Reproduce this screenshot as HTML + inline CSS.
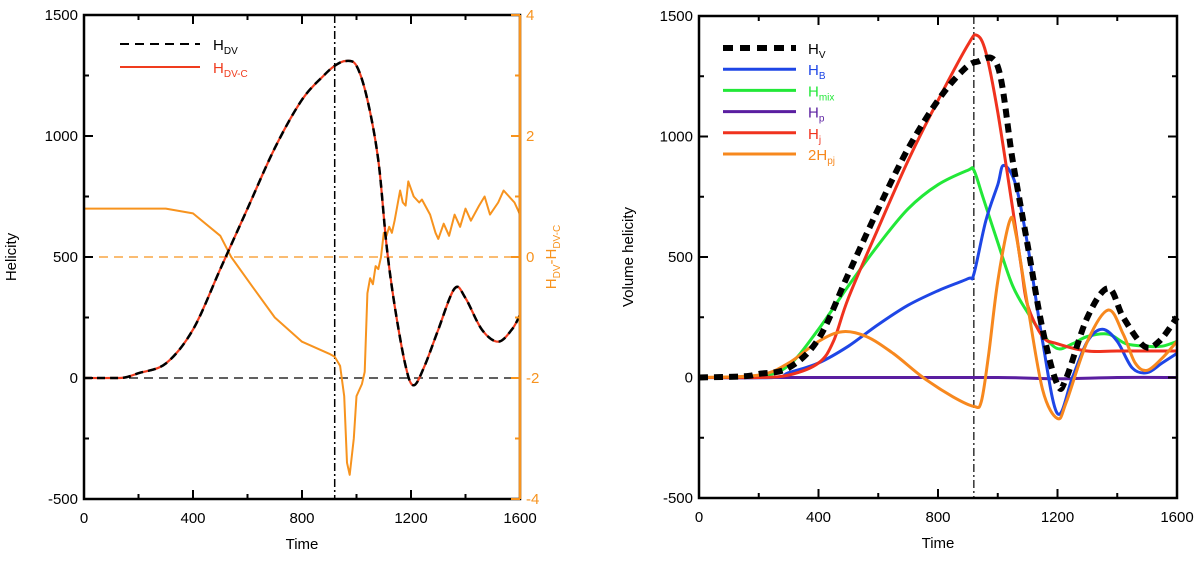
<!DOCTYPE html>
<html><head><meta charset="utf-8"><style>
body{margin:0;background:#fff;width:1200px;height:561px;overflow:hidden}
svg{font-family:"Liberation Sans",sans-serif}
</style></head><body>
<svg id="svg" width="1200" height="561"></svg>
<script>
const tL=[0,100,150,200,300,400,500,600,700,800,880,920,960,1000,1040,1080,1110,1140,1180,1210,1250,1300,1360,1400,1460,1520,1570,1600];
const hdv=[0,0,2,20,60,200,450,700,950,1150,1250,1290,1310,1290,1150,900,550,300,50,-30,50,200,370,330,200,150,200,260];
const tD=[0,300,400,500,540,620,700,800,900,920,940,955,965,975,990,1000,1020,1030,1040,1050,1060,1070,1080,1090,1100,1110,1120,1130,1140,1160,1170,1180,1190,1210,1230,1240,1270,1290,1300,1320,1340,1360,1380,1400,1420,1450,1470,1490,1520,1540,1580,1600];
const diff=[0.8,0.8,0.72,0.35,0,-0.5,-1.0,-1.4,-1.6,-1.65,-1.8,-2.3,-3.4,-3.6,-3.0,-2.3,-2.1,-1.9,-0.6,-0.35,-0.45,-0.15,-0.2,0.0,0.4,0.35,0.5,0.4,0.6,1.1,0.9,0.85,1.25,1.0,0.9,0.95,0.7,0.4,0.3,0.55,0.35,0.7,0.5,0.8,0.6,0.85,1.0,0.7,0.9,1.1,0.9,0.7];
const tHv=[0,150,200,300,400,500,600,700,800,880,930,1000,1050,1100,1150,1200,1230,1300,1370,1420,1490,1540,1600];
const hv=[0,5,15,40,160,430,700,950,1150,1270,1310,1290,900,550,200,-30,0,250,370,250,130,150,250];
const tB=[0,250,300,400,500,600,700,800,900,920,960,1000,1020,1060,1100,1150,1200,1250,1300,1350,1400,1450,1500,1550,1600];
const hb=[0,0,20,60,130,220,300,360,410,430,650,800,880,800,550,150,-150,0,150,200,150,40,20,60,100];
const tM=[0,200,300,400,500,600,700,800,900,920,950,1000,1050,1100,1150,1200,1250,1300,1370,1430,1500,1550,1600];
const hmix=[0,5,50,200,380,550,700,800,860,860,750,560,380,270,180,120,140,170,180,140,130,130,150];
const tP=[0,600,1000,1200,1400,1600];
const hp=[0,0,0,-5,0,0];
const tJ=[0,200,300,400,450,500,600,700,800,900,930,960,1000,1050,1080,1100,1150,1200,1300,1400,1600];
const hj=[0,0,10,60,150,330,620,900,1150,1380,1420,1350,1100,700,450,300,170,140,110,110,110];
const tPJ=[0,200,300,400,480,560,650,750,850,920,945,970,1000,1040,1060,1100,1150,1200,1230,1300,1370,1420,1460,1500,1550,1600];
const hpj=[0,10,60,150,190,170,100,0,-80,-120,-100,100,400,650,600,300,-50,-170,-100,150,280,180,60,30,80,150];
const xTicks=[0,400,800,1200,1600];
const yTicks=[-500,0,500,1000,1500];
const y2Ticks=[-4,-2,0,2,4];

const NS='http://www.w3.org/2000/svg',svg=document.getElementById('svg');
function el(tag,a,txt){const e=document.createElementNS(NS,tag);for(const k in a)e.setAttribute(k,a[k]);if(txt!=null)e.textContent=txt;svg.appendChild(e);return e;}
function panel(L,R,T,B){return{x:t=>L+(R-L)*t/1600,y:v=>B-(B-T)*(v+500)/2000,y2:v=>B-(B-T)*(v+4)/8,L,R,T,B};}
function line(p,ts,vs,yf,style,name,smooth){
  const P=ts.map((t,i)=>[p.x(t),yf(vs[i])]);
  let d='M'+P[0][0].toFixed(1)+','+P[0][1].toFixed(1);
  for(let i=0;i<P.length-1;i++){
    if(!smooth){d+='L'+P[i+1][0].toFixed(1)+','+P[i+1][1].toFixed(1);continue;}
    const p0=P[Math.max(0,i-1)],p1=P[i],p2=P[i+1],p3=P[Math.min(P.length-1,i+2)];
    const c1=[p1[0]+(p2[0]-p0[0])/6,p1[1]+(p2[1]-p0[1])/6],c2=[p2[0]-(p3[0]-p1[0])/6,p2[1]-(p3[1]-p1[1])/6];
    d+='C'+c1.map(v=>v.toFixed(1))+' '+c2.map(v=>v.toFixed(1))+' '+p2.map(v=>v.toFixed(1));
  }
  const e=el('path',Object.assign({d,fill:'none','stroke-linejoin':'round'},style));
  
  
}
function axes(p,pre,right2){
  const f=el('rect',{x:p.L,y:p.T,width:p.R-p.L,height:p.B-p.T,fill:'none',stroke:'#000','stroke-width':2.5});
  
  for(let t=0;t<=1600;t+=200){const x=p.x(t),l=t%400?5:9;
    el('line',{x1:x,x2:x,y1:p.B,y2:p.B-l,stroke:'#000','stroke-width':2});
    el('line',{x1:x,x2:x,y1:p.T,y2:p.T+l,stroke:'#000','stroke-width':2});}
  xTicks.forEach(t=>{const e=el('text',{x:p.x(t),y:p.B+24,'text-anchor':'middle','font-size':15},t);
    });
  for(let v=-500;v<=1500;v+=250){const y=p.y(v),l=v%500?5:9;
    el('line',{x1:p.L,x2:p.L+l,y1:y,y2:y,stroke:'#000','stroke-width':2});
    if(!right2)el('line',{x1:p.R,x2:p.R-l,y1:y,y2:y,stroke:'#000','stroke-width':2});}
  yTicks.forEach(v=>{const e=el('text',{x:p.L-6,y:p.y(v)+5,'text-anchor':'end','font-size':15},v);
    });
  const xt=el('text',{x:(p.L+p.R)/2,y:p.B+50,'text-anchor':'middle','font-size':15},'Time');
  
}
// left panel
const A=panel(84,520,15,499);
el('line',{x1:A.L,x2:A.R,y1:A.y(0),y2:A.y(0),stroke:'#000','stroke-width':1.2,'stroke-dasharray':'9,6'});
el('line',{x1:A.L,x2:A.R,y1:A.y2(0),y2:A.y2(0),stroke:'#f7931e','stroke-width':1.2,'stroke-dasharray':'9,6'});
el('line',{x1:A.x(920),x2:A.x(920),y1:A.T,y2:A.B,stroke:'#000','stroke-width':1.5,'stroke-dasharray':'8,3,2,3'});
line(A,tD,diff,A.y2,{stroke:'#f7931e','stroke-width':2},'difference-line',false);
line(A,tL,hdv,A.y,{stroke:'#f03c1e','stroke-width':2.2},'hdv-c-line',true);
line(A,tL,hdv,A.y,{stroke:'#000','stroke-width':2.5,'stroke-dasharray':'8,5'},'hdv-line',true);
axes(A,'left-',true);
el('line',{x1:A.R,x2:A.R,y1:A.T,y2:A.B,stroke:'#f7931e','stroke-width':2.5});
for(let v=-4;v<=4;v++){const y=A.y2(v),l=v%2?5:9;el('line',{x1:A.R,x2:A.R-l,y1:y,y2:y,stroke:'#f7931e','stroke-width':2});}
y2Ticks.forEach(v=>{const e=el('text',{x:A.R+6,y:A.y2(v)+5,'font-size':15,fill:'#f7931e'},v);
  });
let e=el('text',{x:0,y:0,transform:'translate(16,257) rotate(-90)','text-anchor':'middle','font-size':15},'Helicity');

e=el('text',{x:0,y:0,transform:'translate(556,257) rotate(-90)','text-anchor':'middle','font-size':15,fill:'#f7931e'});
e.innerHTML='H<tspan font-size="10" dy="4">DV</tspan><tspan dy="-4">-H</tspan><tspan font-size="10" dy="4">DV-C</tspan>';

// left legend
el('line',{x1:120,x2:200,y1:44,y2:44,stroke:'#000','stroke-width':2,'stroke-dasharray':'9,6'});
e=el('text',{x:213,y:50,'font-size':15});e.innerHTML='H<tspan font-size="10" dy="4">DV</tspan>';

el('line',{x1:120,x2:200,y1:67,y2:67,stroke:'#f03c1e','stroke-width':2});
e=el('text',{x:213,y:73,'font-size':15,fill:'#f03c1e'});e.innerHTML='H<tspan font-size="10" dy="4">DV-C</tspan>';


// right panel
const B=panel(699,1177,16,498);
el('line',{x1:B.x(920),x2:B.x(920),y1:B.T,y2:B.B,stroke:'#000','stroke-width':1.2,'stroke-dasharray':'8,3,2,3'});
line(B,tP,hp,B.y,{stroke:'#5a1ea0','stroke-width':3},'hp-line',true);
line(B,tM,hmix,B.y,{stroke:'#22e838','stroke-width':3},'hmix-line',true);
line(B,tB,hb,B.y,{stroke:'#1e46e6','stroke-width':3},'hb-line',true);
line(B,tJ,hj,B.y,{stroke:'#f0321e','stroke-width':3},'hj-line',true);
line(B,tPJ,hpj,B.y,{stroke:'#f7881e','stroke-width':3},'hpj-line',true);
line(B,tHv,hv,B.y,{stroke:'#000','stroke-width':6,'stroke-dasharray':'9,6'},'hv-line',true);
axes(B,'right-',false);
e=el('text',{x:0,y:0,transform:'translate(633,257) rotate(-90)','text-anchor':'middle','font-size':15},'Volume helicity');

const leg=[['#000','H','V',true,'legend-hv'],['#1e46e6','H','B',false,'legend-hb'],['#22e838','H','mix',false,'legend-hmix'],['#5a1ea0','H','p',false,'legend-hp'],['#f0321e','H','j',false,'legend-hj'],['#f7881e','2H','pj',false,'legend-hpj']];
leg.forEach((l,i)=>{const y=48+i*21.2;
  el('line',{x1:723,x2:796,y1:y,y2:y,stroke:l[0],'stroke-width':l[3]?6:3,'stroke-dasharray':l[3]?'10,7':'none'});
  const t=el('text',{x:808,y:y+6,'font-size':15,fill:l[0]});t.innerHTML=l[1]+'<tspan font-size="10" dy="4">'+l[2]+'</tspan>';
  });
</script>
</body></html>
